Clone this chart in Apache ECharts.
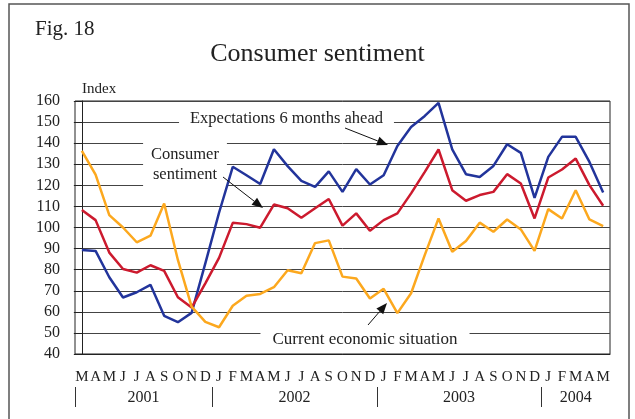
<!DOCTYPE html>
<html>
<head>
<meta charset="utf-8">
<script src="https://cdn.jsdelivr.net/npm/echarts@6.0.0/dist/echarts.min.js"></script>
<style>
html,body{margin:0;padding:0;background:#fff;}
#chart{width:635px;height:419px;}
</style>
</head>
<body>
<div id="chart"></div>
<script>
// month letters, Mar 2001 - May 2004
var months = ['M','A','M','J','J','A','S','O','N','D',
  'J','F','M','A','M','J','J','A','S','O','N','D',
  'J','F','M','A','M','J','J','A','S','O','N','D',
  'J','F','M','A','M'];
var years = ['2001','2002','2003','2004'];
var yearStart = [0, 10, 22, 34];   // index of first month of each year

var expectations = [89.3, 88.9, 76.4, 66.8, 69.3, 72.8, 58.1, 55.1, 59.5, 83, 107,
  128.8, 124.8, 120.6, 137.1, 129.1, 122.1, 119.3, 126.6, 116.9, 127.7, 120.4,
  124.8, 138.7, 147.7, 152.9, 159.1, 137.1, 125.3, 124, 129.2, 139.5, 135.4, 114.1,
  133.5, 143, 143, 131.1, 116.6];
var sentiment = [108.3, 103.5, 88.1, 80.3, 78.6, 82.1, 79.4, 66.9, 62, 73.5, 85.6,
  102.2, 101.6, 99.9, 110.9, 109.1, 104.6, 109.1, 113.5, 100.9, 106.7, 98.5,
  103.5, 106.7, 116.2, 126.4, 137, 117.7, 112.7, 115.4, 116.9, 125.3, 120.9, 104.3,
  123.7, 127.5, 132.7, 120.1, 110.3];
var current = [136.3, 125.1, 105.9, 100, 93, 96.1, 111.4, 84.6, 62.5, 55.2, 52.7,
  62.9, 67.6, 68.5, 71.7, 79.7, 78.3, 92.6, 93.9, 76.7, 75.8, 66.3,
  70.9, 59.4, 68.8, 87, 104.3, 88.5, 93.6, 102.3, 98, 103.8, 99.1, 88.9,
  108.7, 104.3, 117.7, 103.8, 100.7];

var serif = "'Liberation Serif', 'Times New Roman', serif";

// year separators sit between categories, labels in the middle of each year
var yearTicks = yearStart.map(function (s) { return s - 0.5; });
var yearMids = yearStart.map(function (s, i) {
  var e = i < yearStart.length - 1 ? yearStart[i + 1] : months.length;
  return (s + e) / 2 - 0.5;
});

function arrow(x1, y1, x2, y2) {
  var dx = x2 - x1, dy = y2 - y1, len = Math.sqrt(dx * dx + dy * dy);
  var ux = dx / len, uy = dy / len;
  var hl = 11, hw = 4.5;
  var bx = x2 - ux * hl, by = y2 - uy * hl;
  return [
    { type: 'line', z: 100, shape: { x1: x1, y1: y1, x2: bx, y2: by },
      style: { stroke: '#111', lineWidth: 1 } },
    { type: 'polygon', z: 100,
      shape: { points: [[x2, y2], [bx - uy * hw, by + ux * hw], [bx + uy * hw, by - ux * hw]] },
      style: { fill: '#111' } }
  ];
}

var myChart = echarts.init(document.getElementById('chart'));

var option = {
  backgroundColor: '#fff',
  animation: false,
  title: [
    { text: 'Fig. 18', left: 30, top: 14,
      textStyle: { fontFamily: serif, fontSize: 21, fontWeight: 'normal', color: '#222' } },
    { text: 'Consumer sentiment', left: 'center', top: 36,
      textStyle: { fontFamily: serif, fontSize: 26, fontWeight: 'normal', color: '#222' } },
    { text: 'Index', left: 77, top: 77,
      textStyle: { fontFamily: serif, fontSize: 15, fontWeight: 'normal', color: '#222' } }
  ],
  grid: { left: 75, right: 25, top: 101, bottom: 65, show: true, borderColor: '#222', borderWidth: 1 },
  xAxis: [
    {
      type: 'category',
      data: months,
      boundaryGap: true,
      axisLine: { lineStyle: { color: '#222', width: 1 } },
      axisTick: { alignWithLabel: true, interval: 0, length: 8, lineStyle: { color: '#222' } },
      axisLabel: { interval: 0, margin: 16, fontFamily: serif, fontSize: 15, color: '#222' },
      splitLine: { show: false }
    },
    {
      type: 'value',
      position: 'bottom',
      offset: 33,
      min: -0.5,
      max: months.length - 0.5,
      axisLine: { show: false },
      axisTick: { show: true, customValues: yearTicks, length: 20, lineStyle: { color: '#333' } },
      axisLabel: {
        customValues: yearMids, margin: 3, fontFamily: serif, fontSize: 16, color: '#222',
        formatter: function (v) {
          for (var i = 0; i < yearMids.length; i++) {
            if (Math.abs(yearMids[i] - v) < 0.01) return years[i];
          }
          return '';
        }
      },
      splitLine: { show: false }
    }
  ],
  yAxis: {
    type: 'value',
    min: 40,
    max: 160,
    interval: 10,
    axisLine: { show: true, lineStyle: { color: '#222', width: 1 } },
    axisTick: { show: true, length: 8, lineStyle: { color: '#222' } },
    axisLabel: { margin: 15, fontFamily: serif, fontSize: 16, color: '#222' },
    splitLine: { lineStyle: { color: '#444', width: 1 } }
  },
  series: [
    { name: 'Expectations 6 months ahead', type: 'line', data: expectations, showSymbol: false, z: 5,
      lineStyle: { color: '#22349b', width: 2.5 }, itemStyle: { color: '#22349b' } },
    { name: 'Consumer sentiment', type: 'line', data: sentiment, showSymbol: false, z: 5,
      lineStyle: { color: '#cc1a2e', width: 2.5 }, itemStyle: { color: '#cc1a2e' } },
    { name: 'Current economic situation', type: 'line', data: current, showSymbol: false, z: 5,
      lineStyle: { color: '#fca81e', width: 2.5 }, itemStyle: { color: '#fca81e' } }
  ],
  graphic: [
    { type: 'rect', z: 100, shape: { x: 9, y: 4, width: 620, height: 440 },
      style: { fill: 'none', stroke: '#555', lineWidth: 1.5 } },
    { type: 'text', z: 1, x: 286.5, y: 119,
      style: { text: 'Expectations 6 months ahead', font: '16.5px ' + serif, fill: '#222',
        align: 'center', verticalAlign: 'middle', backgroundColor: '#fff', padding: [2, 11] } },
    { type: 'text', z: 1, x: 185, y: 165,
      style: { text: 'Consumer\nsentiment', font: '16.5px ' + serif, fill: '#222', lineHeight: 20,
        align: 'center', verticalAlign: 'middle', backgroundColor: '#fff', padding: [4, 8] } },
    { type: 'text', z: 1, x: 365, y: 340,
      style: { text: 'Current economic situation', font: '17px ' + serif, fill: '#222',
        align: 'center', verticalAlign: 'middle', backgroundColor: '#fff', padding: [3, 12] } }
  ].concat(arrow(345, 128, 388, 145), arrow(223, 177, 263, 208), arrow(368, 325, 387, 303))
};

myChart.setOption(option);
window.addEventListener('resize', function () { myChart.resize(); });
</script>
</body>
</html>
